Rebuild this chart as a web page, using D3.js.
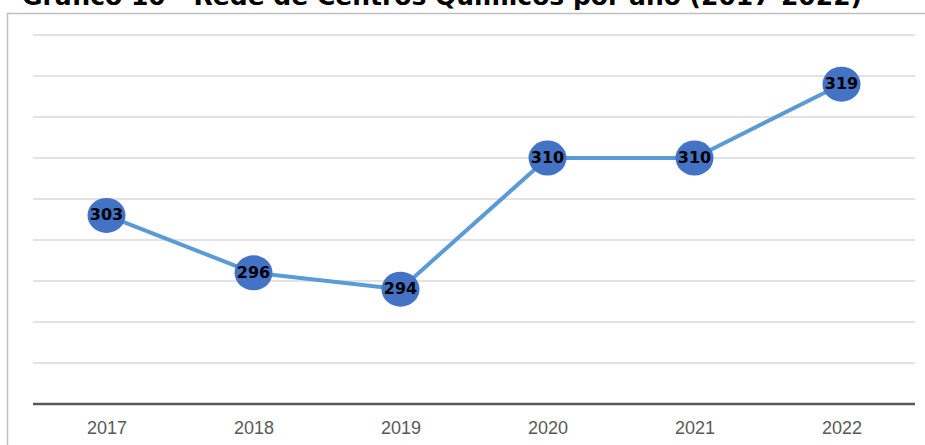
<!DOCTYPE html>
<html>
<head>
<meta charset="utf-8">
<script src="https://cdn.jsdelivr.net/npm/d3@7"></script>
<style>
  body { margin: 0; background: #fff; }
  svg { display: block; }
</style>
</head>
<body>
<div id="chart"></div>
<script>
// chart data
var years = ["2017", "2018", "2019", "2020", "2021", "2022"];
var centros = [303, 296, 294, 310, 310, 319];
var yDomain = [280, 325];
var yTicks = [280, 285, 290, 295, 300, 305, 310, 315, 320, 325];
var title = "Gráfico 10 - Rede de Centros Químicos por ano (2017-2022)";

var svgWidth = 925;
var svgHeight = 445;

var svg = d3.select("#chart").append("svg")
  .attr("width", svgWidth)
  .attr("height", svgHeight);

// title (cut at the top in the original)
svg.append("text")
  .attr("x", 22)
  .attr("y", 5)
  .attr("font-family", "DejaVu Sans, Verdana, sans-serif")
  .attr("font-weight", "bold")
  .attr("font-size", 24)
  .attr("textLength", 840)
  .attr("lengthAdjust", "spacingAndGlyphs")
  .attr("fill", "#000")
  .text(title);

// chart frame
svg.append("rect")
  .attr("x", 7.5)
  .attr("y", 13.5)
  .attr("width", 930)
  .attr("height", 450)
  .attr("fill", "none")
  .attr("stroke", "#bfbfbf")
  .attr("stroke-width", 1.5);

var plotLeft = 33, plotRight = 915, plotTop = 35, plotBottom = 404;

var x = d3.scalePoint()
  .domain(years)
  .range([plotLeft, plotRight])
  .padding(0.5);

var y = d3.scaleLinear()
  .domain(yDomain)
  .range([plotBottom, plotTop]);

// gridlines
svg.append("g")
  .selectAll("line")
  .data(yTicks.slice(1))
  .enter()
  .append("line")
  .attr("x1", plotLeft)
  .attr("x2", plotRight)
  .attr("y1", d => y(d))
  .attr("y2", d => y(d))
  .attr("stroke", "#d9d9d9")
  .attr("stroke-width", 1.5);

// x axis
var xAxis = svg.append("g")
  .attr("transform", `translate(0, ${plotBottom})`)
  .call(d3.axisBottom(x).tickSize(0).tickPadding(17));

xAxis.select(".domain")
  .attr("d", `M${plotLeft},0H${plotRight}`)
  .attr("stroke", "#595959")
  .attr("stroke-width", 2.5);

xAxis.selectAll("text")
  .attr("font-family", "Liberation Sans, Arial, sans-serif")
  .attr("font-size", 18)
  .attr("fill", "#595959");

// line
var line = d3.line()
  .x((d, i) => x(years[i]))
  .y(d => y(d));

svg.append("path")
  .datum(centros)
  .attr("d", line)
  .attr("fill", "none")
  .attr("stroke", "#5b9bd5")
  .attr("stroke-width", 4)
  .attr("stroke-linejoin", "round");

// markers
var points = svg.append("g")
  .selectAll("g")
  .data(centros)
  .enter()
  .append("g");

points.append("ellipse")
  .attr("cx", (d, i) => x(years[i]))
  .attr("cy", d => y(d))
  .attr("rx", 19)
  .attr("ry", 17.5)
  .attr("fill", "#4472c4");

points.append("text")
  .attr("x", (d, i) => x(years[i]))
  .attr("y", d => y(d) + 5)
  .attr("text-anchor", "middle")
  .attr("font-family", "DejaVu Sans, Verdana, sans-serif")
  .attr("font-weight", "bold")
  .attr("font-size", 16)
  .attr("fill", "#000")
  .text(d => d);
</script>
</body>
</html>
